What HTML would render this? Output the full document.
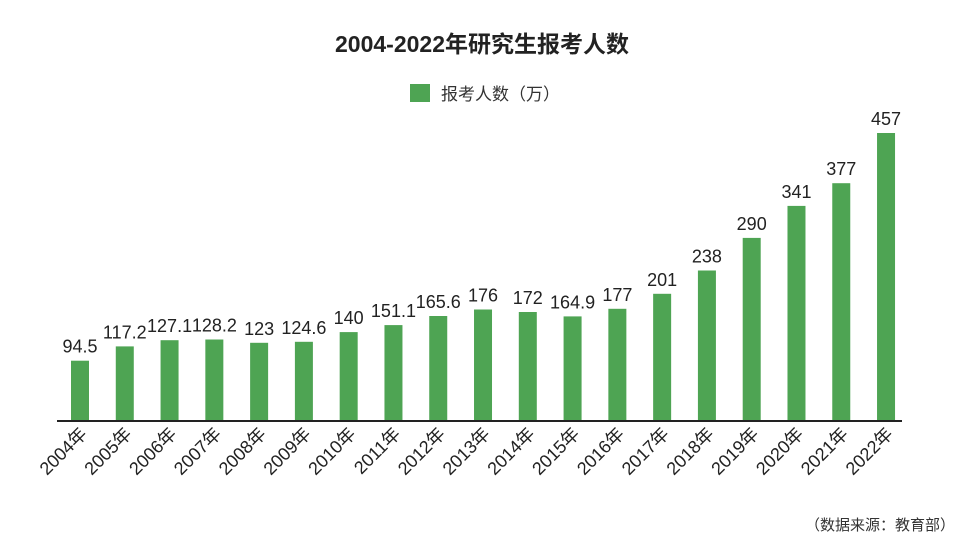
<!DOCTYPE html>
<html><head><meta charset="utf-8"><style>
body{margin:0;background:#fff;}
svg{display:block;font-family:"Liberation Sans","Noto Sans CJK SC",sans-serif;}
</style></head><body>
<svg width="965" height="540" viewBox="0 0 965 540" xmlns="http://www.w3.org/2000/svg">
<text x="482" y="52" text-anchor="middle" font-size="23" font-weight="bold" fill="#222">2004-2022年研究生报考人数</text>
<rect x="410" y="84" width="20" height="18" fill="#4ea453"/>
<text x="441" y="100" font-size="17" fill="#333">报考人数（万）</text>
<g fill="#4ea453">
<rect x="71" y="360.7" width="18" height="59.3"/>
<rect x="115.78" y="346.4" width="18" height="73.6"/>
<rect x="160.56" y="340.2" width="18" height="79.8"/>
<rect x="205.34" y="339.5" width="18" height="80.5"/>
<rect x="250.12" y="342.8" width="18" height="77.2"/>
<rect x="294.9" y="341.8" width="18" height="78.2"/>
<rect x="339.68" y="332.1" width="18" height="87.9"/>
<rect x="384.46" y="325.1" width="18" height="94.9"/>
<rect x="429.24" y="316" width="18" height="104"/>
<rect x="474.02" y="309.5" width="18" height="110.5"/>
<rect x="518.8" y="312" width="18" height="108"/>
<rect x="563.58" y="316.4" width="18" height="103.6"/>
<rect x="608.36" y="308.8" width="18" height="111.2"/>
<rect x="653.14" y="293.8" width="18" height="126.2"/>
<rect x="697.92" y="270.5" width="18" height="149.5"/>
<rect x="742.7" y="237.9" width="18" height="182.1"/>
<rect x="787.48" y="205.9" width="18" height="214.1"/>
<rect x="832.26" y="183.2" width="18" height="236.8"/>
<rect x="877.04" y="133" width="18" height="287"/>
</g>
<g font-size="18" fill="#222" text-anchor="middle">
<text x="80" y="352.7">94.5</text>
<text x="124.78" y="338.4">117.2</text>
<text x="169.56" y="332.2">127.1</text>
<text x="214.34" y="331.5">128.2</text>
<text x="259.12" y="334.8">123</text>
<text x="303.9" y="333.8">124.6</text>
<text x="348.68" y="324.1">140</text>
<text x="393.46" y="317.1">151.1</text>
<text x="438.24" y="308">165.6</text>
<text x="483.02" y="301.5">176</text>
<text x="527.8" y="304">172</text>
<text x="572.58" y="308.4">164.9</text>
<text x="617.36" y="300.8">177</text>
<text x="662.14" y="285.8">201</text>
<text x="706.92" y="262.5">238</text>
<text x="751.7" y="229.9">290</text>
<text x="796.48" y="197.9">341</text>
<text x="841.26" y="175.2">377</text>
<text x="886.04" y="125">457</text>
</g>
<g font-size="18" fill="#222" text-anchor="end">
<text transform="translate(88,435) rotate(-45)">2004年</text>
<text transform="translate(132.78,435) rotate(-45)">2005年</text>
<text transform="translate(177.56,435) rotate(-45)">2006年</text>
<text transform="translate(222.34,435) rotate(-45)">2007年</text>
<text transform="translate(267.12,435) rotate(-45)">2008年</text>
<text transform="translate(311.9,435) rotate(-45)">2009年</text>
<text transform="translate(356.68,435) rotate(-45)">2010年</text>
<text transform="translate(401.46,435) rotate(-45)">2011年</text>
<text transform="translate(446.24,435) rotate(-45)">2012年</text>
<text transform="translate(491.02,435) rotate(-45)">2013年</text>
<text transform="translate(535.8,435) rotate(-45)">2014年</text>
<text transform="translate(580.58,435) rotate(-45)">2015年</text>
<text transform="translate(625.36,435) rotate(-45)">2016年</text>
<text transform="translate(670.14,435) rotate(-45)">2017年</text>
<text transform="translate(714.92,435) rotate(-45)">2018年</text>
<text transform="translate(759.7,435) rotate(-45)">2019年</text>
<text transform="translate(804.48,435) rotate(-45)">2020年</text>
<text transform="translate(849.26,435) rotate(-45)">2021年</text>
<text transform="translate(894.04,435) rotate(-45)">2022年</text>
</g>
<line x1="57" y1="421" x2="902" y2="421" stroke="#222" stroke-width="2"/>
<text x="955" y="530" text-anchor="end" font-size="15" fill="#333">（数据来源：教育部）</text>
</svg>
</body></html>
